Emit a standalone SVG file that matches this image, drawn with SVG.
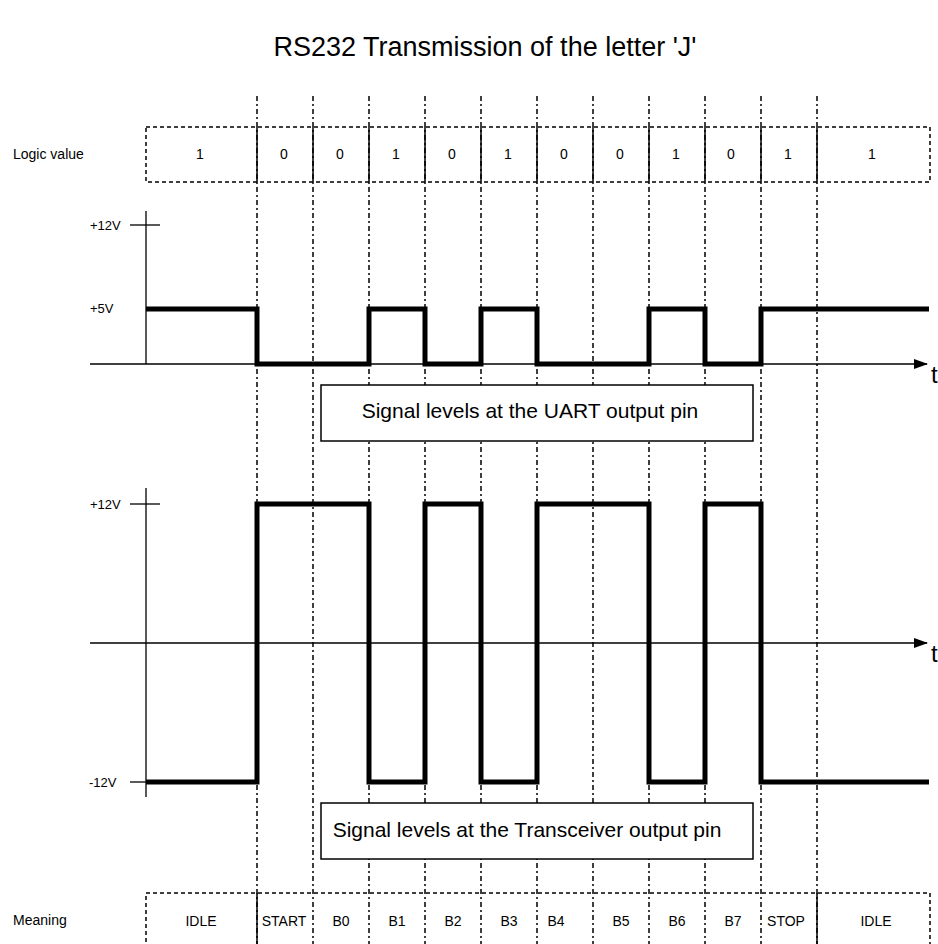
<svg xmlns="http://www.w3.org/2000/svg" width="938" height="944" viewBox="0 0 938 944">
<style>
  text { font-family: "Liberation Sans", Arial, sans-serif; fill: #000; }
  .title { font-size: 27px; text-anchor: middle; }
  .lbl { font-size: 14px; }
  .cell { font-size: 14px; text-anchor: middle; }
  .axl { font-size: 13px; }
  .big { font-size: 21px; text-anchor: middle; }
  .t { font-size: 24px; }
  .grid { stroke: #000; stroke-width: 1.5; stroke-dasharray: 5 3 2 3; fill: none; }
  .dbox { stroke: #000; stroke-width: 1.5; stroke-dasharray: 4 3; fill: none; }
  .solid { stroke: #000; stroke-width: 1.5; fill: none; }
  .axis { stroke: #000; stroke-width: 1.3; fill: none; }
  .sig { stroke: #000; stroke-width: 5; fill: none; stroke-linejoin: miter; }
  .box { stroke: #000; stroke-width: 1.5; fill: #fff; }
</style>
<defs>
  <marker id="arr" markerWidth="14" markerHeight="10" refX="13" refY="5" orient="auto" markerUnits="userSpaceOnUse">
    <path d="M0,0 L14,5 L0,10 Z" fill="#000"/>
  </marker>
</defs>
<rect width="938" height="944" fill="#fff"/>

<text id="title" class="title" x="485" y="56">RS232 Transmission of the letter 'J'</text>

<g id="connectors">
  <g id="gridlines">
    <line class="grid" x1="257" y1="96" x2="257" y2="944"/>
    <line class="grid" x1="313" y1="96" x2="313" y2="944"/>
    <line class="grid" x1="369" y1="96" x2="369" y2="944"/>
    <line class="grid" x1="425" y1="96" x2="425" y2="944"/>
    <line class="grid" x1="481" y1="96" x2="481" y2="944"/>
    <line class="grid" x1="537" y1="96" x2="537" y2="944"/>
    <line class="grid" x1="593" y1="96" x2="593" y2="944"/>
    <line class="grid" x1="649" y1="96" x2="649" y2="944"/>
    <line class="grid" x1="705" y1="96" x2="705" y2="944"/>
    <line class="grid" x1="761" y1="96" x2="761" y2="944"/>
    <line class="grid" x1="817" y1="96" x2="817" y2="944"/>
  </g>
</g>

<g id="logic-row">
  <text class="lbl" x="13" y="159">Logic value</text>
  <rect class="dbox" x="146" y="127" width="784" height="55"/>
  <path class="solid" d="M257,127V182M313,127V182M369,127V182M425,127V182M481,127V182M537,127V182M593,127V182M649,127V182M705,127V182M761,127V182M817,127V182"/>
  <text class="cell" x="200" y="159">1</text>
  <text class="cell" x="284" y="159">0</text>
  <text class="cell" x="340" y="159">0</text>
  <text class="cell" x="396" y="159">1</text>
  <text class="cell" x="452" y="159">0</text>
  <text class="cell" x="508" y="159">1</text>
  <text class="cell" x="564" y="159">0</text>
  <text class="cell" x="620" y="159">0</text>
  <text class="cell" x="676" y="159">1</text>
  <text class="cell" x="731" y="159">0</text>
  <text class="cell" x="788" y="159">1</text>
  <text class="cell" x="872" y="159">1</text>
</g>

<g id="uart-graph">
  <line class="axis" x1="146" y1="211" x2="146" y2="364"/>
  <line class="axis" x1="130" y1="225" x2="160" y2="225"/>
  <text class="axl" x="90" y="229.5">+12V</text>
  <text class="axl" x="90" y="312.5">+5V</text>
  <line class="axis" x1="90" y1="364" x2="927" y2="364" marker-end="url(#arr)"/>
  <text class="t" x="931" y="383">t</text>
  <path class="sig" d="M146,309H257V364H369V309H425V364H481V309H537V364H649V309H705V364H761V309H929"/>
</g>

<g id="uart-label">
  <rect class="box" x="321" y="385" width="432" height="56"/>
  <text class="big" x="530" y="418">Signal levels at the UART output pin</text>
</g>

<g id="transceiver-graph">
  <line class="axis" x1="146" y1="488" x2="146" y2="797"/>
  <line class="axis" x1="130" y1="504" x2="160" y2="504"/>
  <line class="axis" x1="130" y1="782" x2="146" y2="782"/>
  <text class="axl" x="90" y="508.5">+12V</text>
  <text class="axl" x="89" y="786.5">-12V</text>
  <line class="axis" x1="90" y1="643" x2="927" y2="643" marker-end="url(#arr)"/>
  <text class="t" x="931" y="662">t</text>
  <path class="sig" d="M146,782H257V504H369V782H425V504H481V782H537V504H649V782H705V504H761V782H929"/>
</g>

<g id="transceiver-label">
  <rect class="box" x="321" y="803" width="432" height="56"/>
  <text class="big" x="527" y="837">Signal levels at the Transceiver output pin</text>
</g>

<g id="meaning-row">
  <text class="lbl" x="13" y="925">Meaning</text>
  <rect class="dbox" x="146" y="893" width="784" height="70"/>
  <path class="solid" d="M257,893V944M817,893V944"/>
  <text class="cell" x="201" y="926">IDLE</text>
  <text class="cell" x="284" y="926">START</text>
  <text class="cell" x="341" y="926">B0</text>
  <text class="cell" x="397" y="926">B1</text>
  <text class="cell" x="453" y="926">B2</text>
  <text class="cell" x="509" y="926">B3</text>
  <text class="cell" x="556" y="926">B4</text>
  <text class="cell" x="621" y="926">B5</text>
  <text class="cell" x="677" y="926">B6</text>
  <text class="cell" x="733" y="926">B7</text>
  <text class="cell" x="786" y="926">STOP</text>
  <text class="cell" x="876" y="926">IDLE</text>
</g>
</svg>
